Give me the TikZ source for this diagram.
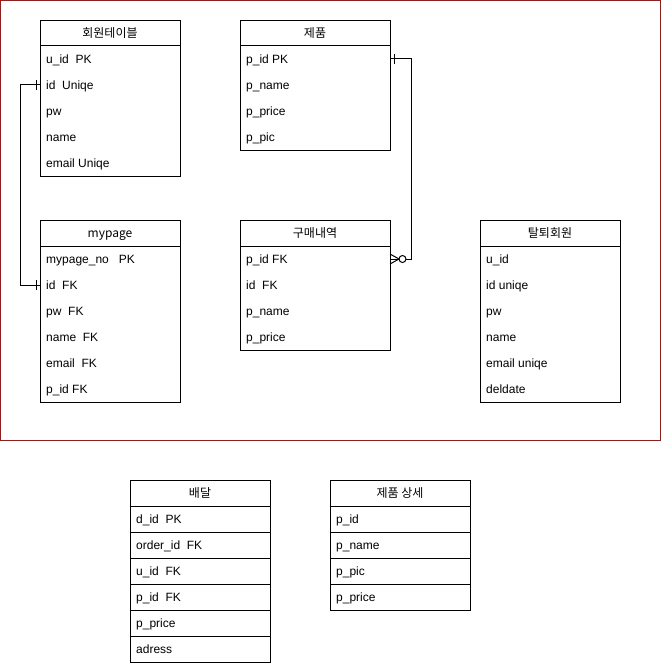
\documentclass[tikz,border=0pt]{standalone}
\usepackage{fontspec}
\setmainfont{Liberation Sans}
\newfontfamily\krfont{Noto Sans CJK KR}
\usetikzlibrary{calc}
\tikzset{
  tblbox/.style={draw=black, line width=1pt, fill=white, inner sep=0pt, anchor=north west},
  hdrtxt/.style={inner sep=0pt, anchor=base, font=\krfont\fontsize{12}{14}\selectfont},
  rowtxt/.style={inner sep=0pt, anchor=base west, font=\fontsize{12}{14}\selectfont},
  rowbox/.style={draw=black, line width=1pt, inner sep=0pt, anchor=north west},
  conn/.style={draw=black, line width=1pt},
  frame/.style={draw=red!85!black, line width=1pt}
}
% #1 name, #2 x, #3 y, #4 width, #5 rows count, #6 title, #7 rows, #8 separators (0/1)
\newcommand\ertable[8]{%
  \node[tblbox, minimum width=#4pt, minimum height={26*(#5+1)*1pt}] (#1) at (#2,#3) {};
  \draw[line width=1pt] (#2,#3+26) -- (#2+#4,#3+26);
  \node[hdrtxt] (#1-h) at (#2+#4/2,#3+17.5) {#6};
  \foreach \r [count=\i] in {#7} {
    \ifnum#8=1
      \node[rowbox, minimum width=#4pt, minimum height=26pt] (#1-b\i) at (#2,#3+26*\i) {};
    \fi
    \node[rowtxt] (#1-\i) at (#2+6,#3+17.5+26*\i) {\r};
  }%
}
\begin{document}
\begin{tikzpicture}[x=1pt,y=-1pt]
\useasboundingbox (0,0) rectangle (661,666);
\draw[frame] (0.5,0.5) rectangle (660,440);

\ertable{mem}{40}{20}{140}{5}{회원테이블}{u\_id~~PK,id~~Uniqe,pw,name,email Uniqe}{0}
\ertable{prod}{240}{20}{150}{4}{제품}{p\_id PK,p\_name,p\_price,p\_pic}{0}
\ertable{myp}{40}{220}{140}{6}{mypage}{mypage\_no~~~PK,id~~FK,pw~~FK,name~~FK,email~~FK,p\_id FK}{0}
\ertable{buy}{240}{220}{150}{4}{구매내역}{p\_id FK,id~~FK,p\_name,p\_price}{0}
\ertable{quit}{480}{220}{140}{6}{탈퇴회원}{u\_id,id uniqe,pw,name,email uniqe,deldate}{0}
\ertable{dlv}{130}{480}{140}{6}{배달}{d\_id~~PK,order\_id~~FK,u\_id~~FK,p\_id~~FK,p\_price,adress}{1}
\ertable{pdet}{330}{480}{140}{4}{제품 상세}{p\_id,p\_name,p\_pic,p\_price}{1}

% connector: 회원테이블.id -> mypage.id
\coordinate (a1) at (40,85);
\coordinate (a2) at (40,285);
\draw[conn] (mem.west |- a1) -- ++(-20,0) |- (myp.west |- a2);
\draw[conn] ($(a1)+(-4,-5)$) -- ++(0,10);
\draw[conn] ($(a2)+(-4,-5)$) -- ++(0,10);

% connector: 제품.p_id -> 구매내역.p_id
\coordinate (b1) at (390,59);
\coordinate (b2) at (390,259);
\draw[conn] (prod.east |- b1) -- ++(20,0) |- ($(b2)+(16,0)$);
\draw[conn] ($(b1)+(4,-5)$) -- ++(0,10);
\draw[conn] ($(b2)+(0,-5)$) -- ($(b2)+(9,0)$) -- ($(b2)+(0,5)$);
\draw[conn] (buy.east |- b2) -- ($(b2)+(9,0)$);
\draw[conn, fill=white] ($(b2)+(12.5,0)$) circle (3.5);
\end{tikzpicture}
\end{document}
